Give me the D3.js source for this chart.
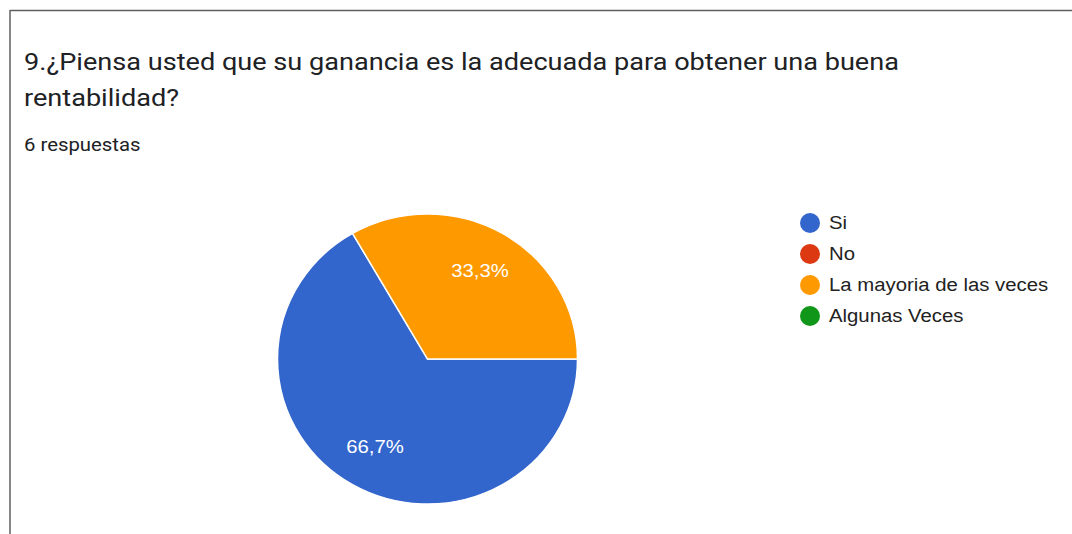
<!DOCTYPE html>
<html>
<head>
<meta charset="utf-8">
<script src="https://cdn.jsdelivr.net/npm/d3@7"></script>
<style>
  html, body { margin: 0; padding: 0; background: #fff; }
  svg { display: block; }
</style>
</head>
<body>
<div id="chart"></div>
<script>
// Chart data
const categories = ["Si", "No", "La mayoria de las veces", "Algunas Veces"];
const counts = [4, 0, 2, 0];
const sliceColors = ["#3366cc", "#dc3912", "#ff9900", "#109618"];
const titleLines = ["9.¿Piensa usted que su ganancia es la adecuada para obtener una buena", "rentabilidad?"];
const subtitle = "6 respuestas";

const width = 1072, height = 534;
const stretch = 1.13; // the source screenshot's text is a bit wider than our fonts

const svg = d3.select("#chart")
    .append("svg")
    .attr("width", width)
    .attr("height", height);

// Card border (top + left edges visible)
svg.append("line")
    .attr("x1", 10).attr("y1", 10.5).attr("x2", width).attr("y2", 10.5)
    .attr("stroke", "#5f5f5f").attr("stroke-width", 1.5);
svg.append("line")
    .attr("x1", 10).attr("y1", 10).attr("x2", 10).attr("y2", height)
    .attr("stroke", "#5f5f5f").attr("stroke-width", 1.5);

// Title
titleLines.forEach((line, i) => {
    svg.append("text")
        .attr("transform", `translate(24,${70 + i * 36}) scale(${stretch},1)`)
        .attr("font-family", "Roboto, Arial, sans-serif")
        .attr("font-size", "24px")
        .attr("fill", "#202124")
        .text(line);
});

svg.append("text")
    .attr("transform", `translate(24,151) scale(${stretch},1)`)
    .attr("font-family", "Roboto, Arial, sans-serif")
    .attr("font-size", "18px")
    .attr("fill", "#202124")
    .text(subtitle);

// Pie
const total = d3.sum(counts);
const data = categories.map((c, i) => ({ name: c, value: counts[i], color: sliceColors[i] }));

const radius = 150;
const pie = d3.pie()
    .sort(null)
    .value(d => d.value)
    .startAngle(Math.PI / 2)
    .endAngle(Math.PI / 2 + 2 * Math.PI);

const arc = d3.arc().innerRadius(0).outerRadius(radius);
const labelArc = d3.arc().innerRadius(radius * 0.7).outerRadius(radius * 0.7);

const g = svg.append("g")
    .attr("transform", `translate(427.5,359) scale(1,0.967)`);

const arcs = pie(data).filter(d => d.data.value > 0);

g.selectAll(".slice")
    .data(arcs)
    .enter()
    .append("path")
    .attr("class", "slice")
    .attr("d", arc)
    .attr("fill", d => d.data.color)
    .attr("stroke", "#fff")
    .attr("stroke-width", 1.5);

const fmt = v => (v * 100).toFixed(1).replace(".", ",") + "%";

svg.append("g")
    .attr("transform", `translate(427.5,359)`)
    .selectAll(".label")
    .data(arcs)
    .enter()
    .append("text")
    .attr("class", "label")
    .attr("transform", d => {
        const [x, y] = labelArc.centroid(d);
        return `translate(${x},${y * 0.967}) scale(${stretch},1)`;
    })
    .attr("dy", "0.35em")
    .attr("text-anchor", "middle")
    .attr("font-family", "Arial, 'Liberation Sans', sans-serif")
    .attr("font-size", "18px")
    .attr("fill", "#fff")
    .text(d => fmt(d.data.value / total));

// Legend
const legend = svg.append("g")
    .attr("transform", "translate(810,223)");

const items = legend.selectAll(".item")
    .data(data)
    .enter()
    .append("g")
    .attr("class", "item")
    .attr("transform", (d, i) => `translate(0,${i * 31})`);

items.append("circle")
    .attr("r", 10)
    .attr("fill", d => d.color);

items.append("text")
    .attr("transform", `translate(19,0) scale(${stretch},1)`)
    .attr("dy", "0.35em")
    .attr("font-family", "Arial, 'Liberation Sans', sans-serif")
    .attr("font-size", "18px")
    .attr("fill", "#222")
    .text(d => d.name);
</script>
</body>
</html>
